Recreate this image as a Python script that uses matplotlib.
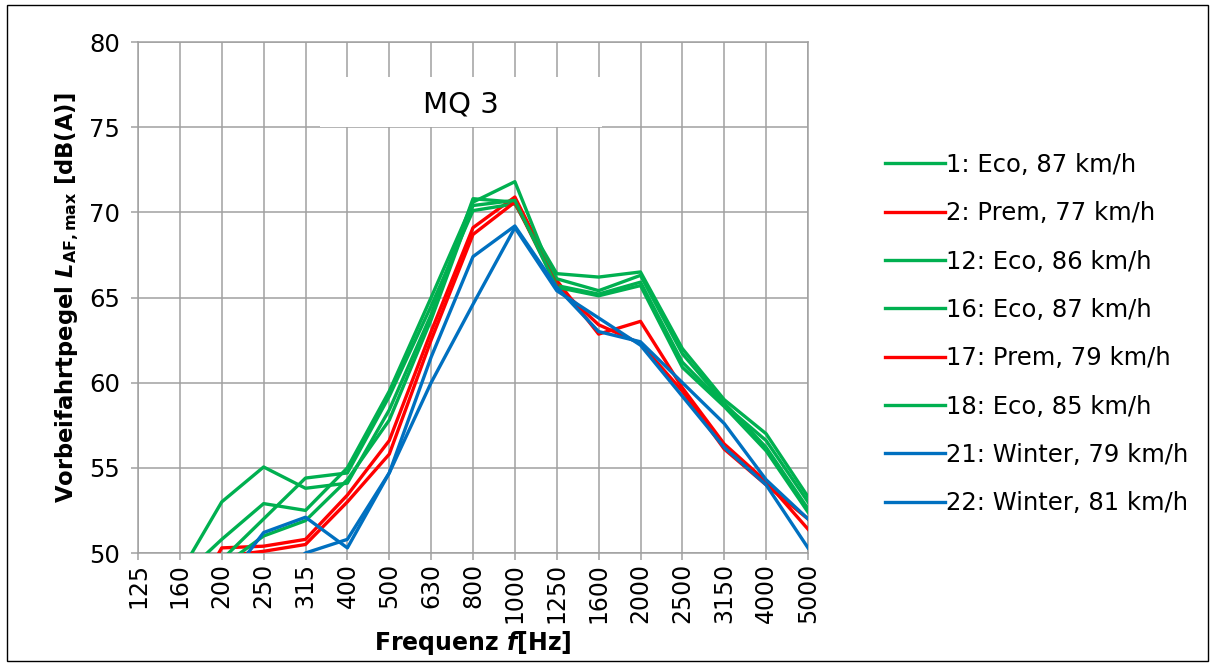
import matplotlib
matplotlib.use("Agg")
import matplotlib.pyplot as plt
from matplotlib.patches import Rectangle

freqs = ["125", "160", "200", "250", "315", "400", "500", "630", "800", "1000",
         "1250", "1600", "2000", "2500", "3150", "4000", "5000"]

labels = ["1: Eco, 87 km/h", "2: Prem, 77 km/h", "12: Eco, 86 km/h", "16: Eco, 87 km/h",
          "17: Prem, 79 km/h", "18: Eco, 85 km/h", "21: Winter, 79 km/h", "22: Winter, 81 km/h"]

s1 = [46.5, 48.8, 53.0, 55.05, 53.8, 54.1, 58.4, 64.0, 70.8, 70.6, 66.4, 66.2, 66.5, 62.0, 59.0, 57.0, 53.3]
s2 = [44.0, 46.0, 50.3, 50.4, 50.8, 53.4, 56.6, 63.0, 69.1, 70.9, 66.0, 62.85, 63.6, 59.7, 56.4, 54.2, 51.4]
s12 = [46.0, 48.5, 50.8, 52.9, 52.5, 55.0, 59.5, 65.0, 70.6, 71.8, 65.7, 65.2, 65.9, 61.2, 58.7, 56.6, 53.0]
s16 = [45.0, 47.5, 49.6, 52.0, 54.4, 54.7, 59.2, 64.5, 70.1, 70.5, 66.1, 65.4, 66.3, 61.7, 58.8, 56.2, 52.6]
s17 = [43.0, 45.0, 49.8, 50.1, 50.5, 53.0, 55.8, 62.5, 68.7, 70.6, 65.7, 63.4, 62.3, 59.5, 56.1, 54.0, 52.0]
s18 = [44.0, 46.5, 49.2, 51.0, 51.9, 54.3, 57.8, 63.7, 70.4, 70.7, 65.6, 65.1, 65.7, 60.9, 58.6, 56.0, 52.4]
s21 = [45.0, 46.0, 48.0, 51.2, 52.1, 50.3, 54.7, 61.5, 67.4, 69.2, 65.6, 63.0, 62.4, 60.0, 57.6, 54.3, 52.0]
s22 = [44.0, 45.0, 47.0, 48.0, 50.0, 50.8, 54.7, 60.0, 64.6, 69.1, 65.4, 63.8, 62.2, 59.2, 56.2, 54.0, 50.3]

series = [s1, s2, s12, s16, s17, s18, s21, s22]
GREEN, RED, BLUE = "#00B050", "#FF0000", "#0070C0"
colors = [GREEN, RED, GREEN, GREEN, RED, GREEN, BLUE, BLUE]

plt.rcParams["font.family"] = ["DejaVu Sans"]
W, H = 1215, 664
fig = plt.figure(figsize=(W / 100, H / 100), dpi=100)
ax = fig.add_axes([138 / W, 1 - 553 / H, (808 - 138) / W, (553 - 42) / H])

x = list(range(len(freqs)))
for vals, col, lab in zip(series, colors, labels):
    ax.plot(x, vals, color=col, lw=2.4, label=lab, zorder=3, solid_joinstyle="round")

ax.set_xlim(0, len(freqs) - 1)
ax.set_ylim(50, 80)
ax.set_yticks([50, 55, 60, 65, 70, 75, 80])
ax.set_xticks(x)
ax.set_xticklabels(freqs, rotation=90, fontsize=17)
ax.tick_params(axis="y", labelsize=17.5, length=5, width=1.1, color="#A0A0A0", pad=8)
ax.tick_params(axis="x", length=5, width=1.1, color="#A0A0A0", pad=2)
ax.set_axisbelow(True)
ax.grid(True, color="#A0A0A0", lw=1.1)
for sp in ax.spines.values():
    sp.set_color("#A0A0A0")
    sp.set_linewidth(1.1)

ax.set_ylabel(r"Vorbeifahrtpegel $\mathbfit{L}_{\mathbf{AF,max}}$ [dB(A)]",
              fontsize=16.3, fontweight="bold", labelpad=6)
ax.set_xlabel(r"Frequenz $\mathbfit{f}$[Hz]", fontsize=17, fontweight="bold", labelpad=4)

# title box
fig.patches.append(Rectangle((320 / W, 1 - 127 / H), 282 / W, 50 / H,
                             transform=fig.transFigure, facecolor="white",
                             edgecolor="none", zorder=1))
fig.text(461 / W, 1 - 104 / H, "MQ 3", fontsize=21, ha="center", va="center", zorder=2)

leg = fig.legend(loc="upper left", bbox_to_anchor=(885 / W, 1 - 153 / H), frameon=False,
                 fontsize=17.5, handlelength=2.45, handletextpad=0.05, labelspacing=1.0,
                 borderpad=0, borderaxespad=0)

fig.patches.append(Rectangle((7 / W, 3 / H), 1201 / W, 656 / H, transform=fig.transFigure,
                             facecolor="none", edgecolor="black", lw=1.0, zorder=5))

fig.savefig("out.png", dpi=100)
